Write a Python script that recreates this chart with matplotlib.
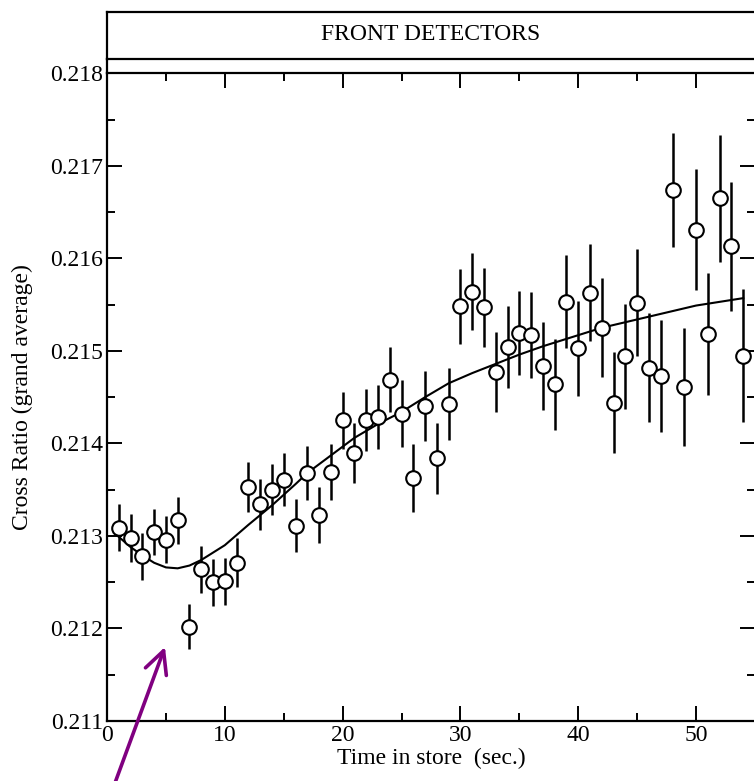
import matplotlib
matplotlib.use("Agg")
import matplotlib.pyplot as plt
from matplotlib.ticker import MultipleLocator, FormatStrFormatter
from matplotlib.lines import Line2D

plt.rcParams['font.family'] = ['Liberation Serif', 'DejaVu Serif']

# ---- data ----
time_s = list(range(1, 55))
ratio = [0.21309, 0.21298, 0.21278, 0.21304, 0.21296, 0.21317, 0.21202, 0.21264,
         0.21250, 0.21251, 0.21271, 0.21353, 0.21334, 0.21350, 0.21361, 0.21311,
         0.21368, 0.21323, 0.21369, 0.21425, 0.21390, 0.21425, 0.21429, 0.21469,
         0.21432, 0.21363, 0.21440, 0.21384, 0.21443, 0.21548, 0.21564, 0.21547,
         0.21477, 0.21504, 0.21519, 0.21517, 0.21484, 0.21464, 0.21553, 0.21503,
         0.21563, 0.21525, 0.21444, 0.21494, 0.21552, 0.21482, 0.21473, 0.21674,
         0.21461, 0.21631, 0.21518, 0.21665, 0.21613, 0.21495]
ratio_err = [0.000257, 0.000257, 0.000252, 0.000248, 0.000252, 0.000252, 0.000247,
             0.000252, 0.000254, 0.000257, 0.000266, 0.000270, 0.000274, 0.000279,
             0.000284, 0.000284, 0.000293, 0.000304, 0.000306, 0.000308, 0.000324,
             0.000333, 0.000346, 0.000350, 0.000360, 0.000369, 0.000378, 0.000385,
             0.000390, 0.000401, 0.000414, 0.000423, 0.000435, 0.000445, 0.000455,
             0.000464, 0.000477, 0.000490, 0.000504, 0.000513, 0.000522, 0.000536,
             0.000549, 0.000563, 0.000578, 0.000592, 0.000607, 0.000617, 0.000633,
             0.000651, 0.000660, 0.000684, 0.000697, 0.000714]

fit_t = [1, 2, 3, 4, 5, 6, 7, 8, 10, 12, 14, 16, 17, 19, 21, 23, 25, 27, 29,
         31, 33, 35, 37, 40, 42, 46, 50, 54]
fit_ratio = [0.21299, 0.21288, 0.21279, 0.21271, 0.21266, 0.21265, 0.21268, 0.21274,
             0.21290, 0.21312, 0.21333, 0.21356, 0.21368, 0.21387, 0.21406, 0.21421,
             0.21434, 0.21450, 0.21465, 0.21476, 0.21486, 0.21496, 0.21505, 0.21517,
             0.21525, 0.21537, 0.21549, 0.21557]

title_text = "FRONT DETECTORS"
x_label = "Time in store  (sec.)"
y_label = "Cross Ratio (grand average)"

W, H = 754, 781
fig = plt.figure(figsize=(W / 100, H / 100), dpi=100)

# main axes (pixel geometry -> figure fractions)
L, R, T, B = 107, 755, 73.3, 721
ax = fig.add_axes([L / W, 1 - B / H, (R - L) / W, (B - T) / H])

ax.errorbar(time_s, ratio, yerr=ratio_err, fmt='none', ecolor='black',
            elinewidth=1.8, capsize=0, zorder=2)
ax.plot(fit_t, fit_ratio, color='black', lw=1.5, zorder=3)
ax.plot(time_s, ratio, 'o', ms=10.5, mfc='white', mec='black', mew=1.5, zorder=4,
        clip_on=False)

ax.set_xlim(0, 55)
ax.set_ylim(0.211, 0.218)
ax.xaxis.set_major_locator(MultipleLocator(10))
ax.xaxis.set_minor_locator(MultipleLocator(5))
ax.yaxis.set_major_locator(MultipleLocator(0.001))
ax.yaxis.set_minor_locator(MultipleLocator(0.0005))
ax.yaxis.set_major_formatter(FormatStrFormatter('%.3f'))
ax.tick_params(which='both', direction='in', top=True, right=True,
               labelsize=17, width=1.4, pad=3)
ax.tick_params(which='major', length=11)
ax.tick_params(which='minor', length=6)
for s in ax.spines.values():
    s.set_linewidth(1.6)

ax.set_xlabel(x_label, fontsize=17, labelpad=1)
ax.set_ylabel(y_label, fontsize=17, labelpad=12)

# arrow
ax.annotate('', xy=(4.92, 0.21180), xytext=(0.3, 0.2102),
            arrowprops=dict(arrowstyle='->,head_length=1.0,head_width=0.5',
                            color='#800080', lw=2.6, mutation_scale=16,
                            shrinkA=0, shrinkB=0),
            annotation_clip=False)

# title box
tT, tB = 12, 59
tax = fig.add_axes([L / W, 1 - tB / H, (R - L) / W, (tB - tT) / H])
tax.set_xticks([])
tax.set_yticks([])
for s in tax.spines.values():
    s.set_linewidth(1.6)
tax.text(0.5, 0.52, title_text, ha='center', va='center', fontsize=17,
         transform=tax.transAxes)

# left edge joining the title box and the plot frame
fig.add_artist(Line2D([L / W, L / W], [1 - tB / H, 1 - T / H], color='black',
                      lw=1.6, transform=fig.transFigure))

fig.savefig('out.png', dpi=100)
